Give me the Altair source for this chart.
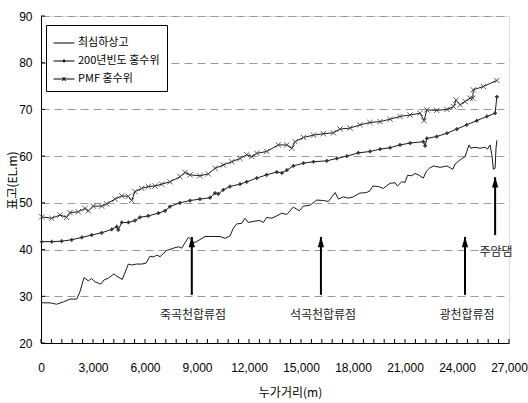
import altair as alt
import pandas as pd

# --- series values (x: cumulative distance in m, y: elevation EL.m) ---
thal_x = [40, 520, 900, 1290, 1670, 2060, 2250, 2480, 2730, 2920, 3120, 3440, 3640, 3890,
          4210, 4370, 4690, 5040, 5230, 5520, 5810, 6060, 6290, 6480, 6680, 6870, 7250,
          7640, 7930, 8120, 8500, 8700, 8790, 8980, 9460, 10330, 10620, 10900, 11100,
          11290, 11580, 11770, 11960, 12350, 12640, 12830, 13020, 13310, 13600, 13890,
          14180, 14560, 14900, 15140, 15520, 15910, 16290, 16580, 16970, 17160, 17440,
          17730, 18020, 18400, 18790, 18980, 19140, 19460, 19750, 20140, 20430, 20560,
          20810, 21000, 21150, 21390, 21580, 21770, 22060, 22220, 22410, 22640, 23030,
          23420, 23760, 23890, 24180, 24470, 24560, 24700, 24790, 25040, 25330, 25620,
          25760, 25910, 26010, 26100, 26200, 26250, 26300]
thal_y = [28.6, 28.6, 28.3, 28.8, 29.4, 29.4, 31.0, 34.0, 33.3, 33.8, 33.1, 32.6, 33.5, 33.9,
          34.8, 34.3, 33.6, 36.9, 36.7, 36.9, 36.9, 37.1, 38.6, 38.4, 38.8, 38.5, 39.8,
          40.3, 40.6, 40.3, 42.6, 42.1, 41.5, 41.7, 42.8, 42.8, 42.4, 42.9, 44.6,
          45.5, 45.6, 46.7, 45.8, 46.1, 46.2, 45.8, 46.9, 46.7, 47.2, 47.8,
          47.5, 49.1, 48.3, 49.3, 49.5, 50.6, 50.5, 50.3, 52.2, 50.8, 51.3,
          51.0, 51.3, 52.1, 52.2, 52.6, 53.6, 53.5, 53.1, 54.2, 54.3, 53.6,
          54.5, 54.4, 55.9, 55.8, 56.3, 56.0, 55.3, 56.7, 57.4, 57.9, 57.6,
          57.9, 57.2, 58.3, 59.2, 59.9, 61.0, 62.4, 61.7, 61.9, 61.7, 61.9,
          61.5, 62.4, 60.3, 57.2, 57.4, 61.7, 63.4]

f200_x = [40, 620, 1190, 1770, 2350, 2920, 3500, 4080, 4370, 4460, 4660, 5040, 5420, 5710,
          6190, 6770, 7160, 7440, 8020, 8600, 9170, 9750, 10040, 10230, 10520, 10900,
          11480, 11870, 12450, 13020, 13600, 13900, 14180, 14560, 15140, 15720, 16490,
          17060, 17640, 18310, 18980, 19560, 20140, 20710, 21300, 22060, 22160, 22260,
          22830, 23420, 23990, 24560, 25140, 25720, 26200, 26300]
f200_y = [41.7, 41.7, 41.8, 42.1, 42.6, 43.1, 43.6, 44.3, 44.9, 44.2, 45.8, 45.8, 46.2, 46.9,
          47.2, 47.8, 48.3, 49.2, 50.0, 50.5, 50.8, 51.1, 52.1, 51.9, 52.8, 53.5,
          54.0, 54.5, 55.3, 56.0, 56.6, 56.4, 57.0, 57.9, 58.5, 58.8, 59.0,
          59.5, 60.0, 60.7, 61.0, 61.5, 61.8, 62.4, 62.8, 63.1, 62.2, 63.8,
          64.2, 64.9, 65.8, 66.7, 67.6, 68.5, 69.2, 72.7]

pmf_x = [40, 620, 1100, 1480, 1670, 2150, 2540, 2730, 3020, 3500, 3790, 4270, 4660, 5040,
         5230, 5420, 5810, 6190, 6580, 6960, 7440, 8020, 8310, 8600, 9170, 9650, 10040,
         10520, 11000, 11480, 11870, 12160, 12450, 13020, 13690, 14180, 14470, 14660,
         15140, 15720, 16290, 16870, 17250, 17830, 18400, 18980, 19560, 20140, 20710,
         21290, 21870, 22100, 22260, 22830, 23420, 23800, 23950, 24180, 24470, 24750,
         24910, 24940, 25520, 26300]
pmf_y = [47.0, 46.7, 47.4, 46.9, 47.9, 48.1, 48.8, 48.3, 49.3, 49.3, 49.8, 50.8, 51.5, 51.4,
         50.5, 52.4, 53.1, 53.5, 53.6, 54.0, 54.5, 55.6, 56.5, 56.0, 55.8, 56.2, 57.4,
         58.1, 58.8, 59.5, 60.3, 59.9, 60.6, 61.0, 62.4, 62.4, 61.7, 63.1,
         64.0, 64.5, 64.8, 65.0, 65.8, 66.0, 66.7, 67.2, 67.4, 67.9, 68.5,
         68.8, 69.2, 67.6, 69.9, 69.8, 70.0, 70.6, 72.0, 71.0, 71.7, 72.4,
         72.4, 74.2, 74.9, 76.2]

series_names = ["최심하상고", "200년빈도 홍수위", "PMF 홍수위"]

# --- annotation arrows (confluences and dam) ---
arrow_x = [8700, 16150, 24460, 26200]
arrow_base = [30.3, 30.3, 30.3, 43.1]
arrow_tip = [42.7, 42.7, 42.7, 55.5]
note_text = ["죽곡천합류점", "석곡천합류점", "광천합류점", "주암댐"]
note_x = [8770, 16270, 24580, 26250]
note_y = [26.0, 26.0, 26.0, 39.4]

x_label_ticks = list(range(0, 27001, 3000))
x_minor_ticks = list(range(0, 27001, 600))
y_ticks = list(range(20, 91, 10))

NUM_FONT = "Liberation Sans"
KR_FONT = "Noto Sans CJK KR"
PLOT_W, PLOT_H, TICK_LEN = 468, 327, 4

frames = []
for name, xs_, ys_ in zip(series_names, [thal_x, f200_x, pmf_x], [thal_y, f200_y, pmf_y]):
    frames.append(pd.DataFrame({"series": name, "dist": xs_, "elev": ys_, "idx": range(len(xs_))}))
df = pd.concat(frames, ignore_index=True)
first_pts = df[df["idx"] == 0].reset_index(drop=True)

arrows = pd.DataFrame({"x": arrow_x, "base": arrow_base, "tip": arrow_tip})
notes = pd.DataFrame({"x": note_x, "y": note_y, "text": note_text})
xticks_df = pd.DataFrame({"t": x_minor_ticks})
yticks_df = pd.DataFrame({"t": y_ticks})

xs = alt.Scale(domain=[0, 27000], nice=False, zero=False)
ys = alt.Scale(domain=[20, 90], nice=False, zero=False)

main_x_axis = alt.Axis(values=x_label_ticks, format=",.0f", ticks=False, domainColor="black",
                       labelFont=NUM_FONT, labelFontSize=12, labelColor="black",
                       labelPadding=19, title="누가거리(m)", titleFont=KR_FONT,
                       titleFontSize=12, titleFontWeight="normal", titleColor="black",
                       titlePadding=14, titleX=249, grid=False, labelFlush=False)
main_y_axis = alt.Axis(values=y_ticks, ticks=False, domainColor="black",
                       labelFont=NUM_FONT, labelFontSize=12, labelColor="black",
                       labelPadding=9, title="표고(EL.m)", titleFont=KR_FONT,
                       titleFontSize=12, titleFontWeight="normal", titleColor="black",
                       titleX=-22, titleY=164, grid=True, gridColor="#9a9a9a",
                       gridDash=[8, 5], gridWidth=1)

lines = alt.Chart(df).mark_line(strokeWidth=1, color="#1a1a1a").encode(
    x=alt.X("dist:Q", scale=xs, axis=main_x_axis),
    y=alt.Y("elev:Q", scale=ys, axis=main_y_axis),
    detail="series:N",
    order="idx:Q",
)

# inward-pointing tick marks on the bottom and left edges
x_tick_marks = alt.Chart(xticks_df).mark_rule(color="black", strokeWidth=1).encode(
    x=alt.X("t:Q", scale=xs, axis=None),
    y=alt.value(PLOT_H),
    y2=alt.value(PLOT_H - TICK_LEN),
)
y_tick_marks = alt.Chart(yticks_df).mark_rule(color="black", strokeWidth=1).encode(
    y=alt.Y("t:Q", scale=ys, axis=None),
    x=alt.value(0),
    x2=alt.value(TICK_LEN),
)

f200_pts = alt.Chart(df).transform_filter(alt.datum.series == series_names[1]).mark_point(
    shape="cross", filled=True, size=14, color="#333333", opacity=1
).encode(
    x=alt.X("dist:Q", scale=xs, axis=None),
    y=alt.Y("elev:Q", scale=ys, axis=None),
)

pmf_pts = alt.Chart(df).transform_filter(alt.datum.series == series_names[2]).mark_point(
    shape="M-1,-1L1,1M-1,1L1,-1", filled=False, size=28, strokeWidth=0.9,
    color="#444444", opacity=1
).encode(
    x=alt.X("dist:Q", scale=xs, axis=None),
    y=alt.Y("elev:Q", scale=ys, axis=None),
)

# legend: line-with-marker symbols for the three series
legend_paths = [
    "M-1,0H1",
    "M-1,0H1M-0.07,-0.09H0.07V0.09H-0.07Z",
    "M-1,0H1M-0.16,-0.2L0.16,0.2M-0.16,0.2L0.16,-0.2",
]
legend_layer = alt.Chart(first_pts).mark_point(
    filled=False, size=0, color="black", opacity=1
).encode(
    x=alt.X("dist:Q", scale=xs, axis=None),
    y=alt.Y("elev:Q", scale=ys, axis=None),
    shape=alt.Shape("series:N",
                    scale=alt.Scale(domain=series_names, range=legend_paths),
                    legend=alt.Legend(orient="none", legendX=5, legendY=9, title=None,
                                      strokeColor="black", fillColor="white", padding=7,
                                      symbolSize=441, symbolStrokeWidth=1,
                                      symbolStrokeColor="black", symbolOpacity=1,
                                      labelFont=KR_FONT, labelFontSize=11,
                                      labelColor="black", labelOffset=3, rowPadding=2,
                                      labelLimit=200)),
)

arrow_shafts = alt.Chart(arrows).mark_rule(color="black", strokeWidth=2).encode(
    x=alt.X("x:Q", scale=xs, axis=None),
    y=alt.Y("base:Q", scale=ys, axis=None),
    y2="tip:Q",
)
arrow_heads = alt.Chart(arrows).mark_point(
    shape="M0,-1L0.6,1L-0.6,1Z", filled=True, size=110, color="black", opacity=1, yOffset=5
).encode(
    x=alt.X("x:Q", scale=xs, axis=None),
    y=alt.Y("tip:Q", scale=ys, axis=None),
)
note_marks = alt.Chart(notes).mark_text(font=KR_FONT, fontSize=12, color="#222222",
                                        align="center", baseline="middle").encode(
    x=alt.X("x:Q", scale=xs, axis=None),
    y=alt.Y("y:Q", scale=ys, axis=None),
    text="text:N",
)

chart = alt.layer(
    lines, x_tick_marks, y_tick_marks, f200_pts, pmf_pts, arrow_shafts, arrow_heads,
    note_marks, legend_layer
).resolve_axis(x="independent", y="independent").properties(
    width=PLOT_W, height=PLOT_H,
    autosize=alt.AutoSizeParams(type="none"),
    padding={"left": 41, "top": 16, "right": 19, "bottom": 60},
).configure_view(stroke="#8c8c8c", strokeWidth=1).configure(background="white")

chart.save("out.html", embed_options={"renderer": "svg", "actions": False})
